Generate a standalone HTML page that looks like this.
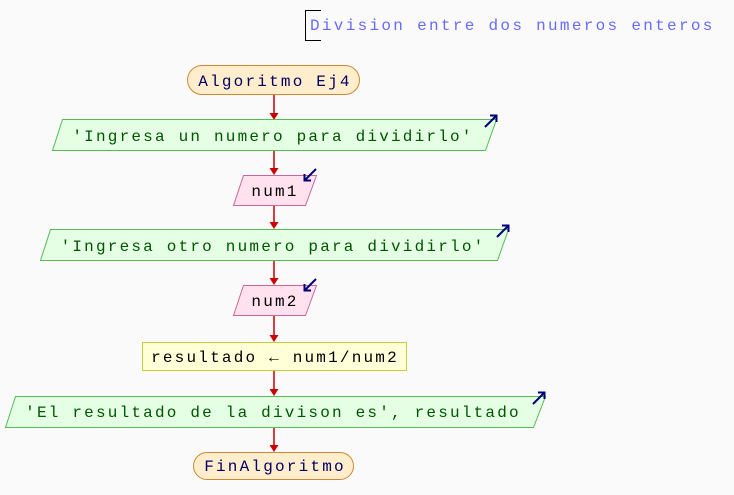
<!DOCTYPE html>
<html><head><meta charset="utf-8"><style>
html,body{margin:0;padding:0;background:#fafafa;}
svg{display:block;}
text{font-family:"Liberation Mono","DejaVu Sans Mono",monospace;font-size:16px;letter-spacing:2.2px;}
</style></head><body>
<svg width="734" height="495" viewBox="0 0 734 495" xmlns="http://www.w3.org/2000/svg">
<rect width="734" height="495" fill="#fafafa"/>
<path d="M321 10.5H305.5V40.5H321" fill="none" stroke="#000" stroke-width="1"/>
<text x="310" y="30" fill="#6a6aff" style="letter-spacing:2.3px">Division entre dos numeros enteros</text>
<g stroke="#cc0000" stroke-width="1.5" fill="none">
<path d="M274 95V116M274 150V172M274 205V226M274 260V282M274 315V339M274 370V393M274 427V449"/>
</g>
<g fill="#cc0000">
<path d="M269.5 113L278.5 113L274 120Z"/>
<path d="M269.5 168L278.5 168L274 175Z"/>
<path d="M269.5 222L278.5 222L274 229Z"/>
<path d="M269.5 278L278.5 278L274 285Z"/>
<path d="M269.5 335L278.5 335L274 342Z"/>
<path d="M269.5 389L278.5 389L274 396Z"/>
<path d="M269.5 445L278.5 445L274 452Z"/>
</g>
<rect x="187.5" y="65.5" width="172" height="29" rx="14.5" fill="#ffedcc" stroke="#cc8833"/>
<text x="275" y="86" text-anchor="middle" fill="#000066">Algoritmo Ej4</text>
<path d="M62.5 119.5H496.5L485.5 150.5H52.5Z" fill="#e4ffe4" stroke="#55bb55"/>
<text x="273" y="141" text-anchor="middle" fill="#005500">'Ingresa un numero para dividirlo'</text>
<path d="M485 127L496 116M490 115.5H496.5V122" stroke="#000077" stroke-width="2" fill="none"/>
<path d="M243.5 175.5H316.5L305.5 205.5H233.5Z" fill="#ffe2ee" stroke="#cc6699"/>
<text x="275" y="196" text-anchor="middle" fill="#000">num1</text>
<path d="M316 169L305 180M304.5 174V180.5H311" stroke="#000077" stroke-width="2" fill="none"/>
<path d="M50.5 229.5H508.5L497.5 260.5H40.5Z" fill="#e4ffe4" stroke="#55bb55"/>
<text x="273" y="251" text-anchor="middle" fill="#005500">'Ingresa otro numero para dividirlo'</text>
<path d="M497 237L508 226M502 225.5H508.5V232" stroke="#000077" stroke-width="2" fill="none"/>
<path d="M243.5 285.5H316.5L305.5 315.5H233.5Z" fill="#ffe2ee" stroke="#cc6699"/>
<text x="275" y="306" text-anchor="middle" fill="#000">num2</text>
<path d="M316 279L305 290M304.5 284V290.5H311" stroke="#000077" stroke-width="2" fill="none"/>
<rect x="142.5" y="342.5" width="264" height="28" fill="#ffffd8" stroke="#cccc33"/>
<text x="275" y="362" text-anchor="middle" fill="#000">resultado ← num1/num2</text>
<path d="M15.5 396.5H545.5L533.5 427.5H5.5Z" fill="#e4ffe4" stroke="#55bb55"/>
<text x="273" y="417" text-anchor="middle" fill="#005500">'El resultado de la divison es', resultado</text>
<path d="M533 404L544 393M538 392.5H544.5V399" stroke="#000077" stroke-width="2" fill="none"/>
<rect x="193.5" y="452.5" width="160" height="27" rx="13.5" fill="#ffedcc" stroke="#cc8833"/>
<text x="275" y="471" text-anchor="middle" fill="#000066">FinAlgoritmo</text>
</svg>
</body></html>
